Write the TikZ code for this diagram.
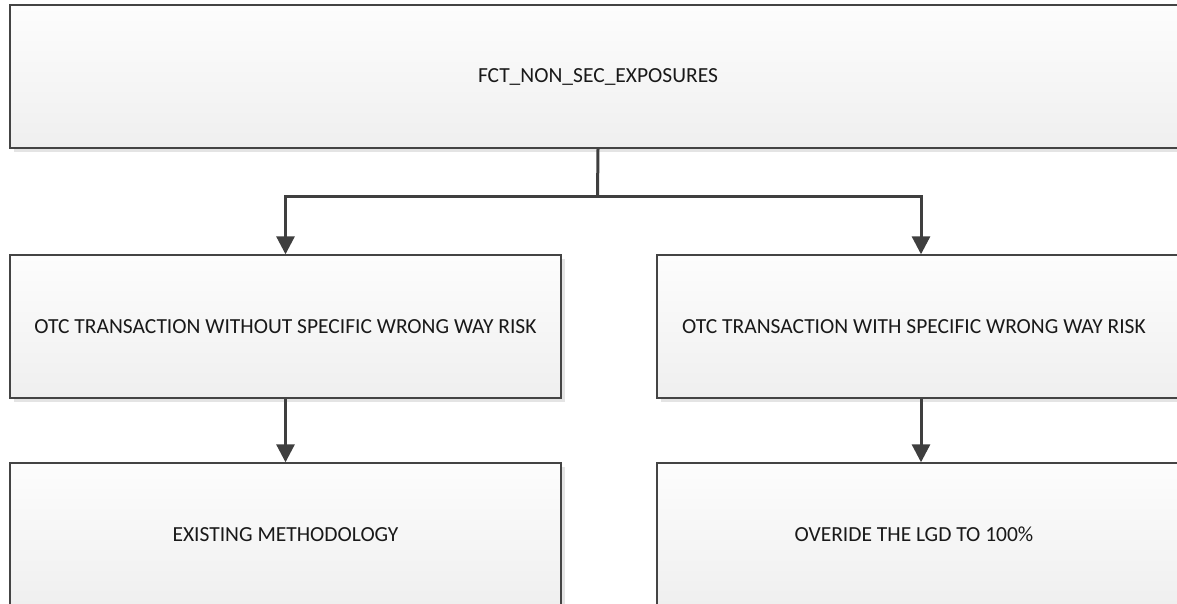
\documentclass[tikz,border=0pt]{standalone}
\usepackage{fontspec}
\setmainfont{Carlito}
\usetikzlibrary{arrows.meta,shadows}
\definecolor{edgegray}{HTML}{444444}
\definecolor{linegray}{HTML}{3F3F3F}
\definecolor{shadowgray}{HTML}{E4E4E4}
\definecolor{boxtop}{HTML}{FDFDFD}
\definecolor{boxbottom}{HTML}{EFEFEF}
\tikzset{
  box/.style={rectangle, draw=edgegray, line width=1.4pt,
    top color=boxtop, bottom color=boxbottom,
    general shadow={fill=shadowgray, shadow xshift=4pt, shadow yshift=-4pt},
    minimum height=143pt, inner sep=0pt, text=black!90, font=\fontsize{21.5}{25}\selectfont},
  conn/.style={draw=linegray, line width=3pt,
    -{Triangle[length=18pt,width=18pt]}},
  connplain/.style={draw=linegray, line width=3pt}
}
\begin{document}
\begin{tikzpicture}[x=1pt,y=-1pt]
\useasboundingbox (0,0) rectangle (1177,603);
\fill[white] (0,0) rectangle (1177,603);
\clip (0,0) rectangle (1177,603);
\node[box, minimum width=1176pt] (top) at (598,76.5) {FCT\_NON\_SEC\_EXPOSURES};
\node[box, minimum width=551pt] (ml) at (285.5,326.5) {OTC TRANSACTION WITHOUT SPECIFIC WRONG WAY RISK};
\node[box, minimum width=528pt] (mr) at (921,326.5) {\hspace*{-14pt}OTC TRANSACTION WITH SPECIFIC WRONG WAY RISK};
\node[box, minimum width=551pt] (bl) at (285.5,534.5) {EXISTING METHODOLOGY};
\node[box, minimum width=528pt] (br) at (921,534.5) {\hspace*{-14pt}OVERIDE THE LGD TO 100\%};
\coordinate (j) at (597.5,196);
\draw[connplain] (top.south) -- (j);
\draw[conn] (j) -| (ml.north);
\draw[conn] (j) -| (mr.north);
\draw[conn] (ml.south) -- (bl.north);
\draw[conn] (mr.south) -- (br.north);
\end{tikzpicture}
\end{document}
